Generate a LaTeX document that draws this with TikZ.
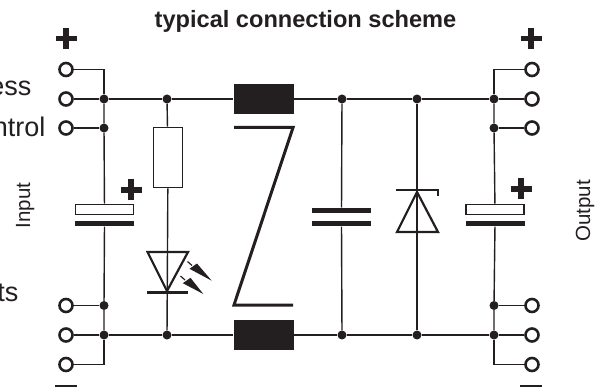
\documentclass[tikz,border=0pt]{standalone}
\usepackage{fontspec}
\setmainfont{Liberation Sans}
\newfontfamily\signfont{DejaVu Sans}
\definecolor{ink}{HTML}{231F20}
\tikzset{
  wire/.style={draw=ink,line width=1.4pt},
  term/.style={circle,draw=ink,fill=white,line width=2.6pt,minimum size=13pt,inner sep=0pt},
  junc/.style={circle,fill=ink,minimum size=9pt,inner sep=0pt},
  plate/.style={fill=ink,draw=none,minimum width=59pt,minimum height=5pt,inner sep=0pt},
  polar/.style={draw=ink,fill=white,line width=1.6pt,minimum width=58pt,minimum height=10pt,inner sep=0pt},
  coil/.style={fill=ink,minimum width=60pt,minimum height=30pt,inner sep=0pt},
  heavy/.style={draw=ink,line width=3pt},
  tri/.style={draw=ink,line width=2.2pt},
  sign/.style={inner sep=0pt,text=ink,font=\signfont\fontsize{27}{27}\selectfont},
  signbar/.style={draw=ink,line width=5.8pt},
  minusbar/.style={fill=ink,minimum width=22pt,minimum height=3pt,inner sep=0pt},
  lab/.style={inner sep=0pt,text=ink,font=\fontsize{27}{27}\selectfont},
  side/.style={inner sep=0pt,text=ink,rotate=90,font=\fontsize{20.5}{20.5}\selectfont,anchor=base},
  ray/.style={fill=ink,draw=none},
  raytail/.style={draw=ink,line width=1.2pt},
}
\begin{document}
\begin{tikzpicture}[x=1pt,y=-1pt]
\useasboundingbox (0,0) rectangle (599,387);
\clip (0,0) rectangle (599,387);
% corner coordinates
\coordinate (bl) at (104,69.5);
\coordinate (br) at (494,69.5);
\coordinate (cl) at (104,364.5);
\coordinate (cr) at (494,364.5);
% junctions
\node[junc] (j1) at (104,99) {};
\node[junc] (j2) at (104,128) {};
\node[junc] (j3) at (104,305.5) {};
\node[junc] (j4) at (104,335) {};
\node[junc] (j5) at (167,99) {};
\node[junc] (j6) at (167,335) {};
\node[junc] (j7) at (342,99) {};
\node[junc] (j8) at (342,335) {};
\node[junc] (j9) at (417,99) {};
\node[junc] (j10) at (417,335) {};
\node[junc] (j11) at (494,99) {};
\node[junc] (j12) at (494,128) {};
\node[junc] (j13) at (494,305.5) {};
\node[junc] (j14) at (494,335) {};
% terminals
\node[term] (l1) at (66,69.5) {};
\node[term] (l2) at (66,99) {};
\node[term] (l3) at (66,128) {};
\node[term] (l4) at (66,305.5) {};
\node[term] (l5) at (66,335) {};
\node[term] (l6) at (66,364.5) {};
\node[term] (r1) at (532,69.5) {};
\node[term] (r2) at (532,99) {};
\node[term] (r3) at (532,128) {};
\node[term] (r4) at (532,305.5) {};
\node[term] (r5) at (532,335) {};
\node[term] (r6) at (532,364.5) {};
% components
\node[draw=ink,fill=white,line width=1.6pt,minimum width=29pt,minimum height=60pt,inner sep=0pt] (res) at (168,157.5) {};
\node[coil] (lt) at (263.5,99) {};
\node[coil] (lb) at (263.5,335) {};
\node[polar] (cin) at (104.5,209.5) {};
\node[plate] (cinb) at (104.5,224) {};
\node[polar] (cout) at (495,209.5) {};
\node[plate] (coutb) at (495,224) {};
\node[plate] (ca) at (341.5,210.2) {};
\node[plate] (cb) at (341.5,224) {};
% wires
\draw[wire] (l1) -- (bl) -- (j1);
\draw[wire] (l2) -- (j1) -- (j5) -- (lt) -- (j7) -- (j9) -- (j11) -- (r2);
\draw[wire] (l3) -- (j2);
\draw[wire] (j1) -- (j2) -- (cin);
\draw[wire] (cinb) -- (j3) -- (j4);
\draw[wire] (l4) -- (j3);
\draw[wire] (l5) -- (j4) -- (j6) -- (lb) -- (j8) -- (j10) -- (j14) -- (r5);
\draw[wire] (l6) -- (cl) -- (j4);
\draw[wire] (r1) -- (br) -- (j11);
\draw[wire] (r3) -- (j12);
\draw[wire] (j11) -- (j12) -- (cout);
\draw[wire] (coutb) -- (j13) -- (j14);
\draw[wire] (r4) -- (j13);
\draw[wire] (r6) -- (cr) -- (j14);
\draw[wire] (j5) -- (res);
\draw[wire] (res) -- (j6);
\draw[wire] (j7) -- (ca);
\draw[wire] (cb) -- (j8);
\draw[wire] (j9) -- (j10);
% Z
\draw[heavy,miter limit=10] (234,127.5) -- (293,127.5) -- (234,305) -- (293,305);
% LED
\coordinate (led1) at (147.5,252);
\coordinate (led2) at (188,252);
\coordinate (led3) at (167,291);
\draw[tri] (led1) -- (led2) -- (led3) -- cycle;
\draw[draw=ink,line width=3pt] (147,292) -- (188,292);
\draw[raytail] (187.5,261.5) -- (192,265.5);
\draw[ray] (189.5,268.8) -- (197,263.5) -- (211.7,280.7) -- cycle;
\draw[raytail] (180.5,276) -- (185,280);
\draw[ray] (182.8,283.2) -- (190.5,277.8) -- (203.3,294) -- cycle;
% Zener
\coordinate (z1) at (417,192);
\coordinate (z2) at (397,232);
\coordinate (z3) at (438,232);
\draw[tri] (z1) -- (z2) -- (z3) -- cycle;
\draw[draw=ink,line width=2.6pt] (396,190) -- (438,190) -- (438,196.5);
% signs
\node[sign] (p1) at (66,38.5) {+};
\node[sign] (p2) at (131,190) {+};
\node[sign] (p3) at (531,38.5) {+};
\node[sign] (p4) at (521,189) {+};
\foreach \s in {p1,p2,p3,p4}{
  \draw[signbar] ([xshift=-10.5pt]\s.center) -- ([xshift=10.5pt]\s.center);
  \draw[signbar] ([yshift=-10.5pt]\s.center) -- ([yshift=10.5pt]\s.center);
}
\node[minusbar] (m1) at (66,386.5) {};
\node[minusbar] (m2) at (531,386.5) {};
% text
\node[inner sep=0pt,text=ink,font=\fontsize{23.6}{23.6}\selectfont\bfseries,anchor=base] (title) at (305.5,28) {typical connection scheme};
\node[lab,anchor=base east] (t1) at (31.5,96) {ess};
\node[lab,anchor=base east] (t2) at (45.5,137) {ntrol};
\node[lab,anchor=base east] (t3) at (18.5,301) {ts};
\node[side] (in) at (30,205.5) {Input};
\node[side] (out) at (590,211) {Output};
\end{tikzpicture}
\end{document}
